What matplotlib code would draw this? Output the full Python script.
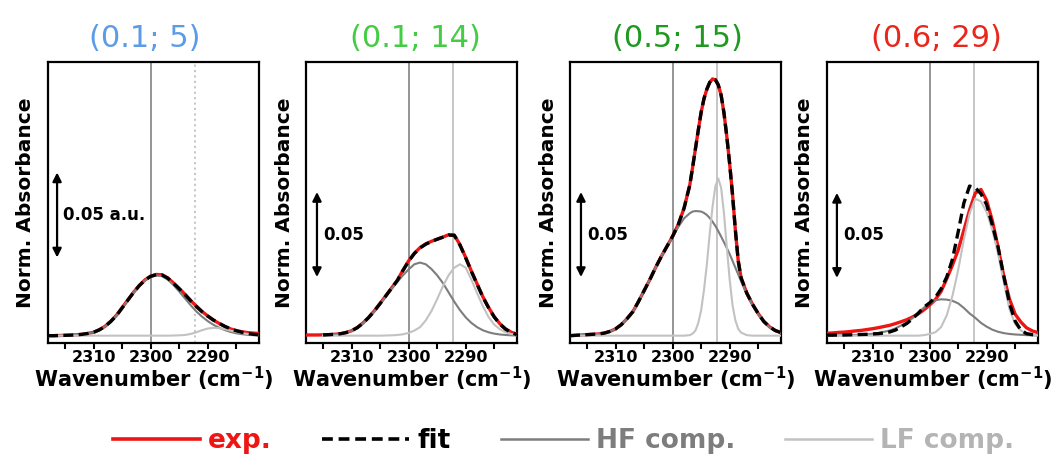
import numpy as np
import matplotlib.pyplot as plt
from matplotlib.lines import Line2D
from matplotlib.ticker import MultipleLocator

plt.rcParams['font.family'] = ['DejaVu Sans']
plt.rcParams['font.weight'] = 'bold'
plt.rcParams['axes.labelweight'] = 'bold'
plt.rcParams['mathtext.fontset'] = 'dejavusans'

nan = np.nan

# wavenumber grids (cm-1); panel 3 is sampled finer around its narrow peak
WN = [2318, 2317, 2316, 2315, 2314, 2313, 2312, 2311, 2310, 2309,
      2308, 2307, 2306, 2305, 2304, 2303, 2302, 2301, 2300, 2299,
      2298, 2297, 2296, 2295, 2294, 2293, 2292, 2291, 2290, 2289,
      2288, 2287, 2286, 2285, 2284, 2283, 2282, 2281]
WN3 = [2318, 2317, 2316, 2315, 2314, 2313, 2312, 2311, 2310, 2309,
       2308, 2307, 2306, 2305, 2304, 2303, 2302, 2301, 2300, 2299,
       2298, 2297, 2296.5, 2296, 2295.5, 2295, 2294.5, 2294, 2293.5, 2293,
       2292.5, 2292, 2291.5, 2291, 2290.5, 2290, 2289.5, 2289, 2288.5, 2288,
       2287, 2286, 2285, 2284, 2283, 2282, 2281]

# absorbance values in units of 1e-3
EXP1 = [0.0, 0.0, 0.1, 0.2, 0.3, 0.5, 0.8, 1.3, 2.0, 3.5,
        5.5, 8.5, 12.0, 16.5, 21.0, 25.5, 29.5, 32.8, 35.0, 36.0,
        35.8, 34.0, 31.0, 27.8, 24.4, 20.8, 17.4, 14.3, 11.6, 9.2,
        7.2, 5.4, 4.0, 3.0, 2.3, 1.8, 1.5, 1.3]
FIT1 = [0.0, 0.0, 0.1, 0.2, 0.3, 0.5, 0.8, 1.3, 2.0, 3.4,
        5.4, 8.3, 11.8, 16.3, 20.9, 25.4, 29.4, 32.7, 34.9, 35.9,
        35.7, 33.8, 30.8, 27.6, 24.2, 20.6, 17.2, 14.1, 11.5, 9.2,
        7.3, 5.5, 4.0, 2.9, 2.0, 1.3, 0.8, 0.5]
HF1 = [0.0, 0.0, 0.1, 0.2, 0.3, 0.5, 0.8, 1.3, 2.0, 3.4,
       5.4, 8.3, 11.8, 16.2, 20.8, 25.3, 29.3, 32.5, 34.6, 35.4,
       35.0, 33.0, 29.8, 26.0, 22.0, 18.0, 14.3, 11.2, 8.6, 6.4,
       4.7, 3.3, 2.2, 1.4, 0.9, 0.5, 0.3, 0.2]
LF1 = [0.0, 0.0, 0.0, 0.0, 0.0, 0.0, 0.0, 0.0, 0.0, 0.0,
       0.0, 0.0, 0.0, 0.0, 0.0, 0.0, 0.0, 0.0, 0.0, 0.0,
       0.0, 0.0, 0.1, 0.2, 0.4, 1.0, 2.0, 3.2, 4.2, 4.6,
       4.4, 3.8, 3.0, 2.2, 1.5, 1.0, 0.6, 0.4]

EXP2 = [0.4, 0.4, 0.4, 0.5, 0.6, 0.8, 1.1, 1.8, 2.9, 4.8,
        7.5, 10.8, 14.7, 19.0, 23.5, 28.0, 32.5, 38.5, 44.0, 48.5,
        51.8, 54.0, 55.5, 56.8, 58.0, 59.3, 59.2, 53.5, 46.0, 38.0,
        30.5, 23.0, 16.7, 11.2, 7.0, 4.0, 2.0, 0.8]
FIT2 = [nan, nan, nan, 0.4, 0.6, 0.8, 1.1, 1.8, 2.9, 4.7,
        7.4, 10.7, 14.6, 18.9, 23.4, 27.9, 32.4, 38.3, 43.8, 48.3,
        51.6, 53.8, 55.4, 56.7, 57.9, 59.2, 59.0, 53.3, 45.8, 37.8,
        30.3, 22.8, 16.5, 11.0, 6.8, 3.8, 1.8, 0.6]
HF2 = [nan, nan, nan, 0.3, 0.5, 0.7, 1.0, 1.7, 2.8, 4.6,
       7.3, 10.5, 14.3, 18.6, 23.0, 27.5, 31.5, 35.5, 39.0, 42.0,
       43.0, 42.0, 39.2, 35.5, 31.0, 25.5, 20.0, 15.0, 10.8, 7.5,
       5.0, 3.2, 2.0, 1.2, 0.7, 0.4, 0.2, 0.1]
LF2 = [nan, nan, nan, 0.0, 0.0, 0.0, 0.0, 0.0, 0.0, 0.0,
       0.0, 0.0, 0.0, 0.0, 0.1, 0.2, 0.4, 0.8, 1.6, 3.0,
       5.0, 9.0, 14.5, 21.5, 29.0, 35.5, 40.0, 42.0, 40.0, 33.0,
       25.0, 17.5, 11.0, 6.5, 3.8, 2.0, 1.0, 0.5]

EXP3 = [0.0, 0.2, 0.4, 0.6, 0.8, 1.0, 1.5, 2.5, 4.0, 6.5,
        10.0, 14.0, 20.0, 26.5, 33.0, 40.0, 46.5, 52.5, 58.5, 65.5,
        75.0, 88.5, 99.0, 110.0, 121.0, 131.5, 139.5, 145.0, 149.0, 151.0,
        150.5, 147.5, 141.5, 131.0, 117.0, 101.0, 83.0, 62.0, 44.0, 34.0,
        25.0, 18.5, 13.0, 8.3, 5.2, 3.0, 1.8]
FIT3 = [0.0, 0.2, 0.4, 0.6, 0.8, 1.0, 1.5, 2.5, 4.0, 6.5,
        10.0, 14.0, 20.0, 26.5, 33.0, 40.0, 46.5, 52.5, 58.5, 65.5,
        75.0, 88.5, 99.0, 110.0, 121.0, 131.5, 139.5, 145.0, 149.0, 151.0,
        150.5, 147.5, 141.5, 131.0, 117.0, 101.0, 83.0, 62.0, 44.0, 34.0,
        25.0, 18.5, 13.0, 8.3, 5.2, 3.0, 1.8]
HF3 = [0.0, 0.2, 0.4, 0.6, 0.8, 1.0, 1.5, 2.5, 4.0, 6.5,
       10.0, 14.0, 20.0, 26.5, 33.0, 40.0, 46.5, 52.5, 58.0, 64.0,
       69.0, 72.0, 73.0, 73.3, 73.2, 73.0, 72.2, 71.0, 69.2, 67.0,
       64.5, 61.5, 58.3, 55.0, 51.5, 48.0, 44.0, 40.0, 36.0, 32.0,
       24.5, 18.0, 12.5, 8.0, 5.0, 2.8, 1.6]
LF3 = [0.0, 0.0, 0.0, 0.0, 0.0, 0.0, 0.0, 0.0, 0.0, 0.0,
       0.0, 0.0, 0.0, 0.0, 0.0, 0.0, 0.0, 0.0, 0.0, 0.0,
       0.0, 0.3, 1.2, 3.0, 7.5, 15.0, 27.0, 42.0, 60.0, 76.0,
       88.0, 92.5, 87.0, 72.0, 52.0, 33.0, 18.0, 9.0, 4.0, 1.8,
       0.3, 0.0, 0.0, 0.0, 0.0, 0.0, 0.0]

EXP4 = [1.4, 1.6, 1.9, 2.1, 2.4, 2.8, 3.1, 3.6, 4.1, 4.7,
        5.4, 6.1, 7.1, 8.2, 9.4, 11.0, 12.8, 15.2, 18.0, 21.2,
        26.0, 33.5, 41.5, 50.4, 62.0, 73.9, 83.9, 86.0, 79.5, 67.5,
        52.0, 35.0, 21.5, 12.6, 8.0, 4.6, 2.8, 1.8]
FIT4 = [0.3, 0.3, 0.4, 0.4, 0.5, 0.6, 0.7, 0.8, 1.0, 1.2,
        1.6, 2.2, 3.3, 5.2, 7.2, 10.0, 13.2, 16.8, 19.3, 22.5,
        27.5, 34.5, 45.0, 61.0, 78.0, 88.0, 87.0, 83.5, 77.0, 65.0,
        52.0, 35.0, 19.0, 8.5, 3.2, 1.2, 0.6, 0.4]
HF4 = [0.1, 0.1, 0.2, 0.2, 0.3, 0.4, 0.6, 0.8, 1.1, 1.6,
       2.3, 3.0, 4.3, 6.0, 7.8, 10.3, 13.5, 16.5, 19.0, 20.8,
       21.4, 21.2, 20.5, 19.0, 16.3, 13.1, 10.5, 7.5, 5.3, 3.5,
       2.3, 1.5, 1.0, 0.7, 0.5, 0.3, 0.2, 0.1]
LF4 = [0.0, 0.0, 0.0, 0.0, 0.0, 0.0, 0.0, 0.0, 0.0, 0.0,
       0.0, 0.0, 0.0, 0.0, 0.0, 0.0, 0.0, 0.3, 1.0, 2.0,
       5.0, 12.0, 23.5, 38.6, 56.5, 71.9, 80.5, 79.0, 72.5, 62.0,
       48.0, 31.5, 15.5, 6.8, 3.0, 1.2, 0.5, 0.2]

TITLES = ['(0.1; 5)', '(0.1; 14)', '(0.5; 15)', '(0.6; 29)']
TITLE_COLORS = ['#5c9ce6', '#44cc44', '#1f991f', '#e8271c']
HF_LINES = [2300, 2300, 2300, 2300]
LF_LINES = [2292.2, 2292.3, 2292.2, 2292.3]
SCALE_LABELS = ['0.05 a.u.', '0.05', '0.05', '0.05']
SCALE_BAR = 0.05
SCALE_BOTTOM = [0.046, 0.0345, 0.0345, 0.034]

panels = [
    (WN, EXP1, FIT1, HF1, LF1),
    (WN, EXP2, FIT2, HF2, LF2),
    (WN3, EXP3, FIT3, HF3, LF3),
    (WN, EXP4, FIT4, HF4, LF4),
]

RED = '#ee1515'
DARK = '#7d7d7d'
LIGHT = '#c2c2c2'
DASH = (0, (3.0, 1.6))

fig = plt.figure(figsize=(10.54, 4.55), dpi=100)

lefts = [48, 306, 570, 827]
title_x = [0.46, 0.52, 0.51, 0.52]
arrow_x = [0.043, 0.052, 0.052, 0.047]

for i, (wn, exp, fit, hf, lf) in enumerate(panels):
    ax = fig.add_axes([lefts[i] / 1054, 0.2462, 211 / 1054, 0.6176])
    wn = np.array(wn)

    ax.axvline(HF_LINES[i], color='#8c8c8c', lw=1.3, zorder=1)
    ax.axvline(LF_LINES[i], color=LIGHT, lw=1.3,
               ls=(0, (1.2, 1.8)) if i == 0 else '-', zorder=1)

    ax.plot(wn, np.array(exp) / 1000, color=RED, lw=2.4, zorder=3)
    ax.plot(wn, np.array(hf) / 1000, color=DARK, lw=1.5, zorder=4)
    ax.plot(wn, np.array(lf) / 1000, color=LIGHT, lw=1.5, zorder=4)
    ax.plot(wn, np.array(fit) / 1000, color='black', lw=2.4, ls=DASH,
            zorder=5)

    ax.set_xlim(2318, 2281)
    ax.set_ylim(-0.0043, 0.161)
    ax.set_yticks([])
    ax.xaxis.set_major_locator(MultipleLocator(10))
    ax.xaxis.set_minor_locator(MultipleLocator(5))
    ax.tick_params(axis='x', which='both', direction='out', width=1.5,
                   length=4, pad=1, labelsize=11.5)
    for s in ax.spines.values():
        s.set_linewidth(1.6)

    ax.set_xlabel(r'Wavenumber (cm$^{\mathbf{-1}}$)', fontsize=15,
                  fontweight='bold', labelpad=0)
    ax.set_ylabel('Norm. Absorbance', fontsize=14.5, fontweight='bold',
                  labelpad=9)

    ax.text(title_x[i], 1.085, TITLES[i], transform=ax.transAxes,
            ha='center', va='center', fontsize=22, fontweight='normal',
            color=TITLE_COLORS[i])

    trans = ax.get_yaxis_transform()
    ax.annotate('', xy=(arrow_x[i], SCALE_BOTTOM[i] + SCALE_BAR),
                xytext=(arrow_x[i], SCALE_BOTTOM[i]),
                xycoords=trans, textcoords=trans,
                arrowprops=dict(arrowstyle='<|-|>', color='black', lw=1.6,
                                mutation_scale=13, shrinkA=0, shrinkB=0))
    ax.text(arrow_x[i] + 0.028, SCALE_BOTTOM[i] + SCALE_BAR / 2,
            SCALE_LABELS[i], transform=trans, ha='left', va='center',
            fontsize=12, fontweight='bold')

handles = [Line2D([], [], color=RED, lw=2.6),
           Line2D([], [], color='black', lw=2.6, ls=DASH),
           Line2D([], [], color=DARK, lw=1.8),
           Line2D([], [], color=LIGHT, lw=1.8)]
labels = ['exp.', 'fit', 'HF comp.', 'LF comp.']
leg = fig.legend(handles, labels, loc='center', bbox_to_anchor=(0.535, 0.03),
                 ncol=4, frameon=False, fontsize=19, handlelength=3.3,
                 handletextpad=0.3, columnspacing=1.9)
for t, c in zip(leg.get_texts(), [RED, 'black', DARK, '#b4b4b4']):
    t.set_color(c)

fig.savefig('out.png', dpi=100)
